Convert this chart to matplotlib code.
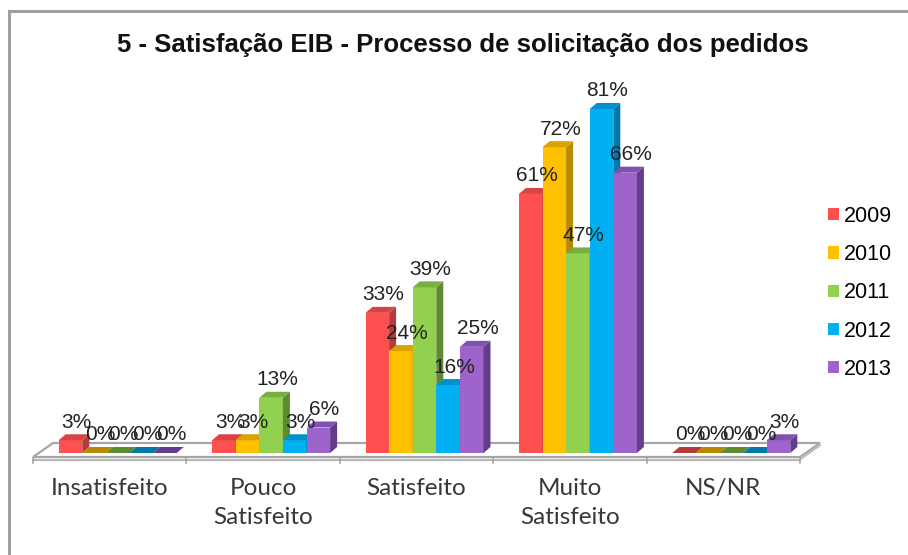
import matplotlib
matplotlib.use("Agg")
import matplotlib.pyplot as plt
from matplotlib.patches import Polygon
from matplotlib.lines import Line2D
import numpy as np

categories = ["Insatisfeito", "Pouco\nSatisfeito", "Satisfeito", "Muito\nSatisfeito", "NS/NR"]
years = ["2009", "2010", "2011", "2012", "2013"]
v2009 = [3, 3, 33, 61, 0]
v2010 = [0, 3, 24, 72, 0]
v2011 = [0, 13, 39, 47, 0]
v2012 = [0, 3, 16, 81, 0]
v2013 = [0, 6, 25, 66, 3]
series = [v2009, v2010, v2011, v2012, v2013]

front = ["#FF5050", "#FFC000", "#92D050", "#00B0F0", "#9E64CC"]
side = ["#B43C3C", "#B88A00", "#5E8A30", "#0078A8", "#643C8C"]
top = ["#D84444", "#D9A300", "#78B040", "#0092CC", "#8052B0"]

W, H = 908, 555
fig = plt.figure(figsize=(W / 100, H / 100), dpi=100)
fig.patch.set_facecolor("white")

# pixel geometry
x0_px, x1_px = 33, 800
base_px = 453
px_per_pct = 4.247
ymax = 90
ax = fig.add_axes([x0_px / W, (H - base_px) / H, (x1_px - x0_px) / W, ymax * px_per_pct / H])
ax.set_xlim(-0.5, len(categories) - 0.5)
ax.set_ylim(0, ymax)
ax.axis("off")

ux = (x1_px - x0_px) / len(categories)  # px per x unit
def dxu(px):
    return px / ux
def dyu(px):
    return px / px_per_pct

# floor
fl_front = dyu(-4)
fl_back = dyu(10)
bx = dxu(20)
floor = Polygon([[-0.5, fl_front], [4.5, fl_front], [4.5 + bx, fl_back], [-0.5 + bx, fl_back]],
                closed=True, facecolor="white", edgecolor="#A6A6A6", lw=1.6, clip_on=False, zorder=1)
ax.add_patch(floor)
ax.add_line(Line2D([-0.5, 4.5], [fl_front - dyu(2.5), fl_front - dyu(2.5)], color="#B8B8B8", lw=1.6,
                   clip_on=False, zorder=1))
ax.add_line(Line2D([4.5, 4.5 + bx], [fl_front - dyu(2.5), fl_back - dyu(2.5)], color="#B8B8B8", lw=1.2,
                   clip_on=False, zorder=1))
for t in np.arange(-0.5, 5.0, 1.0):
    ax.add_line(Line2D([t, t], [fl_front - dyu(1), fl_front - dyu(6)], color="#A6A6A6", lw=1.2,
                       clip_on=False, zorder=1))

# bars
bw = dxu(23.6)
shift = dxu(8)
ddx = dxu(7)
ddy = dyu(6)
n = len(series)
z = 2
for ci in range(len(categories)):
    gstart = ci + shift - n * bw / 2
    for si in range(n):
        v = series[si][ci]
        xl = gstart + si * bw
        xr = xl + bw
        if v > 0:
            ax.add_patch(Polygon([[xl, 0], [xr, 0], [xr, v], [xl, v]], closed=True,
                                 facecolor=front[si], edgecolor="none", zorder=z, clip_on=False))
            ax.add_patch(Polygon([[xr, 0], [xr + ddx, ddy], [xr + ddx, v + ddy], [xr, v]], closed=True,
                                 facecolor=side[si], edgecolor="none", zorder=z, clip_on=False))
        ax.add_patch(Polygon([[xl, v], [xr, v], [xr + ddx, v + ddy], [xl + ddx, v + ddy]], closed=True,
                             facecolor=top[si] if v > 0 else side[si], edgecolor="none", zorder=z,
                             clip_on=False))
        z += 1

# labels
for ci in range(len(categories)):
    gstart = ci + shift - n * bw / 2
    for si in range(n):
        v = series[si][ci]
        xc = gstart + si * bw + bw / 2 + dxu(6)
        ax.text(xc, v + dyu(18), f"{v}%", ha="center", va="center", fontsize=15,
                family="Liberation Sans", color="#222222", zorder=100, clip_on=False)

# category labels
for ci, c in enumerate(categories):
    ax.text(ci, dyu(-25), c, ha="center", va="top", fontsize=17.5, family="Lato",
            color="#383838", linespacing=1.45, clip_on=False)

# title
fig.text(463 / W, 1 - 45 / H, "5 - Satisfação EIB - Processo de solicitação dos pedidos",
         ha="center", va="center", fontsize=18.5, fontweight="bold", family="Liberation Sans",
         color="#111111")

# legend
handles = [plt.Rectangle((0, 0), 1, 1, facecolor=front[i], edgecolor="none") for i in range(n)]
leg = fig.legend(handles, years, loc="upper left", bbox_to_anchor=(828 / W, 1 - 206 / H),
                 frameon=False, prop={"family": "Liberation Sans", "size": 15.5},
                 handlelength=0.5, handleheight=0.5, handletextpad=0.25, labelspacing=0.8,
                 borderaxespad=0, borderpad=0)

# frame
fig.add_artist(Line2D([9 / W, 9 / W], [0, 1 - 11 / H], color="#A0A0A0", lw=2.2))
fig.add_artist(Line2D([9 / W, 1], [1 - 11 / H, 1 - 11 / H], color="#A0A0A0", lw=2.2))

fig.savefig("out.png", dpi=100, facecolor="white")
